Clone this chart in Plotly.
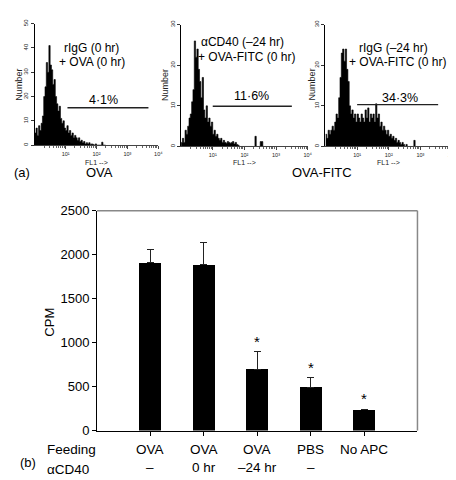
import plotly.graph_objects as go

# ---------------- data ----------------
# (a) flow histograms: counts per FL1 channel (1/24 decade steps starting at 10^0)
hist_ova = [5, 7, 4, 8, 6, 9, 12, 20, 24, 34, 30, 41, 33, 31, 25, 27, 20, 17, 14, 16,
            11, 9, 10, 7, 6, 8, 5, 6, 4, 5, 3, 4, 3, 2, 3, 1.5, 2, 1, 1.5, 0.5,
            1, 0.5, 1, 0.3, 0.5, 0.3, 0, 0.5, 0, 0, 0, 0, 1.2, 0, 0]
hist_cd40 = [1, 2, 1, 4, 3, 5, 7, 8, 11, 14, 26, 22, 24, 19, 16, 12, 17, 9, 7, 10,
             6, 7, 5, 6, 3, 4, 2.5, 3, 2, 1.5, 2, 1, 1.5, 1, 0.8, 1.2, 1, 0.8, 1, 1.2,
             0.6, 1, 0.5, 0.3, 0, 0, 0, 0, 0, 0, 0, 0, 0, 0, 0, 0, 2.5, 0, 0, 0,
             1.2, 1.2, 0, 0]
hist_rigg = [3, 2, 4, 3, 4, 5, 4, 6, 8, 7, 12, 17, 23, 24, 21, 24, 19, 16, 10, 8,
             9, 7, 8, 6, 8, 7, 6, 8, 7, 6, 9, 7, 9.5, 6, 8, 7, 8, 6, 10.5, 7,
             8, 5, 6, 4, 5, 4, 3, 4, 2.5, 3, 2, 2.5, 1.5, 2, 1, 1.5, 1, 0.5, 1, 0.5,
             0, 0.5, 0, 0, 0, 0, 0, 1.5, 0, 0]
hist_sets = [hist_ova, hist_cd40, hist_rigg]
hist_ymax = [50, 30, 30]
hist_line1 = ["rIgG (0 hr)", "\u03b1CD40 (\u201324 hr)", "rIgG (\u201324 hr)"]
hist_line2 = ["+ OVA (0 hr)", "+ OVA-FITC (0 hr)", "+ OVA-FITC (0 hr)"]
hist_pct = ["4\u00b71%", "11\u00b76%", "34\u00b73%"]
gate_lo = [10 ** 1.06, 10 ** 1.0, 10 ** 1.0]
gate_hi = [10 ** 3.68, 10 ** 3.5, 10 ** 3.56]
gate_y = [15.4, 9.9, 10.3]
fl1_tickvals = [10, 100, 1000, 10000]
fl1_ticktext = ["10\u00b9", "10\u00b2", "10\u00b3", "10\u2074"]
steps_per_decade = 24

# (b) proliferation
bar_pos = [1, 2, 3, 4, 5]
cpm = [1910, 1890, 700, 495, 235]
cpm_err = [150, 250, 195, 105, 10]
significant = [False, False, True, True, True]
feeding = ["OVA", "OVA", "OVA", "PBS", "No APC"]
acd40 = ["\u2013", "0 hr", "\u201324 hr", "\u2013", ""]
cpm_ticks = [0, 500, 1000, 1500, 2000, 2500]

W, H = 456, 480
FONT = "Liberation Sans, Arial, Helvetica, sans-serif"


def px(x):
    return x / W


def py(y):
    return 1 - y / H


def txt(x, y, text, size, xanchor="center", angle=0, color="black", xref="paper", yref="paper"):
    return dict(x=x, y=y, xref=xref, yref=yref, xanchor=xanchor, yanchor="middle",
                text=text, textangle=angle, showarrow=False,
                font=dict(size=size, family=FONT, color=color))


fig = go.Figure()

# histogram panel geometry (pixel boxes)
hist_boxes = [
    (27, 152, 9, 134.3),
    (175, 303, 10, 135.7),
    (321, 449, 10, 135.7),
]
number_x = [11, 158, 307]

annotations = []
shapes = []
for k, vals in enumerate(hist_sets):
    xs = [10 ** (i / steps_per_decade) for i in range(len(vals) + 1)]
    ys = list(vals) + [0]
    ax = "" if k == 0 else str(k + 1)
    fig.add_trace(go.Scatter(
        x=xs, y=ys, mode="lines", line=dict(shape="hv", color="black", width=0.6),
        fill="tozeroy", fillcolor="black", xaxis="x" + ax, yaxis="y" + ax,
        hoverinfo="skip"))
    fig.add_trace(go.Scatter(
        x=[gate_lo[k], gate_hi[k]], y=[gate_y[k], gate_y[k]], mode="lines",
        line=dict(color="#222", width=1.4), xaxis="x" + ax, yaxis="y" + ax,
        hoverinfo="skip"))
    x0, x1, y0, y1 = hist_boxes[k]
    minor_vals = [m * 10 ** d for d in range(4) for m in range(2, 10)]
    fig.update_layout(**{
        "xaxis" + ax: dict(
            domain=[px(x0), px(x1)], anchor="y" + ax, type="log", range=[0, 4],
            tickvals=fl1_tickvals, ticktext=fl1_ticktext,
            ticks="outside", ticklen=3, tickwidth=0.8, tickcolor="#444",
            minor=dict(tickvals=minor_vals, ticks="outside", ticklen=1.5,
                       tickcolor="#666", tickwidth=0.6),
            showline=True, linecolor="#444", linewidth=1,
            tickfont=dict(size=5.5, color="#222", family=FONT),
            showgrid=False, zeroline=False, fixedrange=True),
        "yaxis" + ax: dict(
            domain=[py(y1), py(y0)], anchor="x" + ax, range=[0, hist_ymax[k]],
            tickvals=list(range(0, hist_ymax[k] + 1, 10)), tickangle=-90,
            ticks="outside", ticklen=3, tickwidth=0.8, tickcolor="#333",
            showline=True, linecolor="black", linewidth=1,
            tickfont=dict(size=6, color="#222", family=FONT),
            showgrid=False, zeroline=False, fixedrange=True),
    })
    annotations.append(txt(px((x0 + x1) / 2), py(152.5), "FL1 -->", 7, color="#222"))
    annotations.append(txt(px(number_x[k]), py(72), "Number", 9, angle=-90, color="#222"))

# histogram texts
txt_pos = [
    ((55, 34), (50, 49), (97, 88)),
    ((193, 28), (190, 43), (246, 84)),
    ((353, 34), (343, 49), (396, 86)),
]
for k in range(3):
    (a1, b1), (a2, b2), (c1, c2) = txt_pos[k]
    annotations.append(txt(px(a1), py(b1), hist_line1[k], 12, xanchor="left"))
    annotations.append(txt(px(a2), py(b2), hist_line2[k], 12, xanchor="left"))
    annotations.append(txt(px(c1), py(c2), hist_pct[k], 12.5))

annotations += [
    txt(px(4), py(163), "(a)", 13, xanchor="left"),
    txt(px(93), py(163), "OVA", 13),
    txt(px(317), py(163), "OVA-FITC", 13),
]

# ---------------- bar chart ----------------
fig.add_trace(go.Bar(
    x=bar_pos, y=cpm, width=0.41, marker=dict(color="black", line=dict(width=0)),
    error_y=dict(type="data", array=cpm_err, arrayminus=[0] * len(cpm_err),
                 symmetric=False, color="#222", thickness=1, width=3.5),
    xaxis="x4", yaxis="y4", hoverinfo="skip"))

fig.update_layout(
    xaxis4=dict(domain=[px(90), px(414)], anchor="y4", range=[0, 6],
                tickvals=bar_pos, ticks="outside", ticklen=4, tickcolor="black",
                showticklabels=False, showline=True, linecolor="black", linewidth=1,
                showgrid=False, zeroline=False, fixedrange=True),
    yaxis4=dict(domain=[py(429), py(202)], anchor="x4", range=[0, 2500],
                tickvals=cpm_ticks, ticks="outside", ticklen=4, tickcolor="black",
                showline=True, linecolor="black", linewidth=1,
                tickfont=dict(size=13, family=FONT, color="black"),
                showgrid=False, zeroline=False, fixedrange=True),
)
shapes += [
    dict(type="line", xref="x4 domain", yref="y4 domain", x0=0, x1=1, y0=1, y1=1,
         line=dict(color="#888", width=1.5)),
    dict(type="line", xref="x4 domain", yref="y4 domain", x0=1, x1=1, y0=0, y1=1,
         line=dict(color="#888", width=1.5)),
]

for i, sig in enumerate(significant):
    if sig:
        annotations.append(dict(x=bar_pos[i], y=cpm[i] + cpm_err[i], xref="x4", yref="y4",
                                xanchor="center", yanchor="bottom", text="*",
                                showarrow=False, yshift=0,
                                font=dict(size=15, family=FONT, color="black")))

annotations.append(txt(px(42), py(317), "CPM", 13, angle=-90))
annotations.append(txt(px(37), py(449), "Feeding", 13.5, xanchor="left"))
annotations.append(txt(px(37), py(469), "\u03b1CD40", 13.5, xanchor="left"))
annotations.append(txt(px(10), py(462), "(b)", 13, xanchor="left"))
for i in range(len(bar_pos)):
    annotations.append(txt(bar_pos[i], py(449), feeding[i], 13.5, xref="x4"))
    if acd40[i]:
        annotations.append(txt(bar_pos[i], py(467), acd40[i], 13.5, xref="x4"))

fig.update_layout(
    width=W, height=H, margin=dict(l=0, r=0, t=0, b=0),
    paper_bgcolor="white", plot_bgcolor="white", showlegend=False,
    annotations=annotations, shapes=shapes, bargap=0,
    font=dict(family=FONT, color="black"),
)

fig.write_html("out.html")
